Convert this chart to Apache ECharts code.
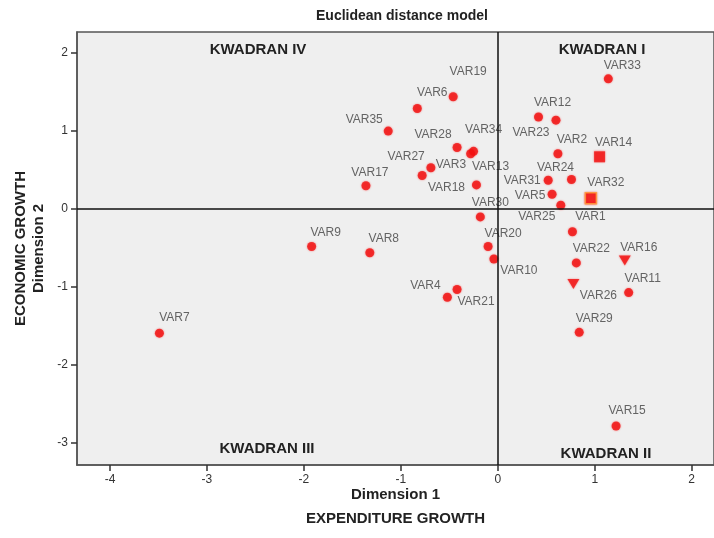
<!DOCTYPE html>
<html>
<head>
<meta charset="utf-8">
<script src="https://cdn.jsdelivr.net/npm/echarts@6/dist/echarts.min.js"></script>
<style>
html,body{margin:0;padding:0;background:#fff;}
#chart{width:714px;height:538px;}
</style>
</head>
<body>
<div id="chart"></div>
<script>
// ---- data ----
const varNames = ['VAR1','VAR2','VAR3','VAR4','VAR5','VAR6','VAR7','VAR8','VAR9','VAR10',
  'VAR11','VAR12','VAR13','VAR14','VAR15','VAR16','VAR17','VAR18','VAR19','VAR20',
  'VAR21','VAR22','VAR23','VAR24','VAR25','VAR26','VAR27','VAR28','VAR29','VAR30',
  'VAR31','VAR32','VAR33','VAR34','VAR35'];
const dim1 = [0.77,0.62,-0.69,-0.52,0.56,-0.83,-3.49,-1.32,-1.92,-0.04,
  1.35,0.42,-0.25,1.05,1.22,1.31,-1.36,-0.22,-0.46,-0.10,
  -0.42,0.81,0.60,0.76,0.65,0.78,-0.78,-0.42,0.84,-0.18,
  0.52,0.96,1.14,-0.28,-1.13];
const dim2 = [-0.29,0.71,0.53,-1.13,0.19,1.29,-1.59,-0.56,-0.48,-0.64,
  -1.07,1.18,0.74,0.67,-2.78,-0.66,0.30,0.31,1.44,-0.48,
  -1.03,-0.69,1.14,0.38,0.05,-0.96,0.43,0.79,-1.58,-0.10,
  0.37,0.14,1.67,0.71,1.00];
const markerGroup = ['dot','dot','dot','dot','dot','dot','dot','dot','dot','dot',
  'dot','dot','dot','square','dot','triangle','dot','dot','dot','dot',
  'dot','dot','dot','dot','dot','triangle','dot','dot','dot','dot',
  'dot','square','dot','dot','dot'];
const xTicks = [-4,-3,-2,-1,0,1,2];
const yTicks = [-3,-2,-1,0,1,2];
const quadrantNames = ['KWADRAN IV','KWADRAN I','KWADRAN III','KWADRAN II'];

// ---- label placement (pixel shifts, layout only) ----
const labelShift = {
  VAR1:[18,-15],VAR2:[14,-14],VAR3:[20,-3],VAR4:[-22,-12],VAR5:[-22,1],VAR6:[15,-16],
  VAR7:[15,-15],VAR8:[14,-14],VAR9:[14,-14],VAR10:[25,12],VAR11:[14,-14],VAR12:[14,-14],
  VAR13:[17,15],VAR14:[14,-14],VAR15:[11,-15],VAR16:[14,-13],VAR17:[4,-13],VAR18:[-30,3],
  VAR19:[15,-25],VAR20:[15,-13],VAR21:[19,12],VAR22:[15,-14],VAR23:[-25,13],VAR24:[-16,-12],
  VAR25:[-24,11],VAR26:[25,12],VAR27:[-16,-19],VAR28:[-24,-13],VAR29:[15,-14],VAR30:[10,-14],
  VAR31:[-26,0],VAR32:[15,-15],VAR33:[14,-13],VAR34:[13,-24],VAR35:[-24,-11]
};

const RED = '#f01010';
const groupStyle = {
  dot: {symbol:'circle', symbolSize:9, symbolRotate:0},
  square: {symbol:'rect', symbolSize:11, symbolRotate:0},
  triangle: {symbol:'triangle', symbolSize:[12,10], symbolRotate:180}
};

function buildSeries(group){
  const data = [];
  varNames.forEach((n,i)=>{
    if(markerGroup[i]!==group) return;
    const item = {
      name:n, value:[dim1[i],dim2[i]],
      label:{offset:labelShift[n]}
    };
    if(n==='VAR32') item.itemStyle = {borderColor:'#ffa23a', borderWidth:1.5};
    data.push(item);
  });
  const st = groupStyle[group];
  return {
    type:'scatter', name:group, data:data,
    symbol:st.symbol, symbolSize:st.symbolSize, symbolRotate:st.symbolRotate,
    itemStyle:{color:RED, shadowColor:'rgba(255,0,0,0.6)', shadowBlur:2},
    label:{show:true, position:'inside', formatter:'{b}', color:'#404040',
      fontFamily:'Liberation Sans, Arial, sans-serif', fontSize:12,
      align:'center', verticalAlign:'middle'},
    z:3
  };
}

const series = ['dot','square','triangle'].map(buildSeries);
series.push({
  type:'scatter', data:[], silent:true,
  markLine:{silent:true, symbol:'none', animation:false,
    label:{show:false},
    lineStyle:{color:'#111', type:'solid', width:1.5},
    data:[{xAxis:0},{yAxis:0}]},
  z:2
});

const chart = echarts.init(document.getElementById('chart'), null, {renderer:'canvas'});
const tickFont = {color:'#333', fontSize:12, fontFamily:'Liberation Sans, Arial, sans-serif'};
const nameFontX = {fontWeight:'bold', fontSize:15, color:'#222', fontFamily:'Liberation Sans, Arial, sans-serif', lineHeight:24};
const nameFontY = {fontWeight:'bold', fontSize:15, color:'#222', fontFamily:'Liberation Sans, Arial, sans-serif', lineHeight:18};
const quadPos = [[258,50],[602,50],[267,449],[606,454]];

chart.setOption({
  animation:false,
  backgroundColor:'#ffffff',
  title:{text:'Euclidean distance model', left:397, top:4, textAlign:'center',
    textStyle:{fontSize:14, fontWeight:'bold', color:'#222', fontFamily:'Liberation Sans, Arial, sans-serif'}},
  grid:{left:77, right:0, top:32, bottom:73, show:true, backgroundColor:'#efefef',
    borderColor:'#555', borderWidth:1.5, containLabel:false, outerBoundsMode:'none'},
  xAxis:{type:'value', min:-4.34, max:2.23,
    name:'Dimension 1\nEXPENDITURE GROWTH', nameLocation:'middle', nameGap:18, nameMoveOverlap:false,
    nameTextStyle:nameFontX,
    axisLine:{show:true, onZero:false, lineStyle:{color:'#555', width:1.5}},
    axisTick:{show:true, length:6, customValues:xTicks, lineStyle:{color:'#333', width:1.5}},
    axisLabel:{customValues:xTicks, margin:9, ...tickFont},
    splitLine:{show:false}},
  yAxis:{type:'value', min:-3.28, max:2.27,
    name:'ECONOMIC GROWTH\nDimension 2', nameLocation:'middle', nameGap:29, nameMoveOverlap:false,
    nameTextStyle:nameFontY,
    axisLine:{show:true, onZero:false, lineStyle:{color:'#555', width:1.5}},
    axisTick:{show:true, length:6, customValues:yTicks, lineStyle:{color:'#333', width:1.5}},
    axisLabel:{customValues:yTicks, margin:9, ...tickFont},
    splitLine:{show:false}},
  graphic: quadrantNames.map((t,i)=>({
    type:'text', x:quadPos[i][0], y:quadPos[i][1], z:10,
    style:{text:t, fill:'#222', font:'bold 15px "Liberation Sans", Arial, sans-serif',
      textAlign:'center', textVerticalAlign:'middle'}
  })),
  series:series
});
</script>
</body>
</html>
